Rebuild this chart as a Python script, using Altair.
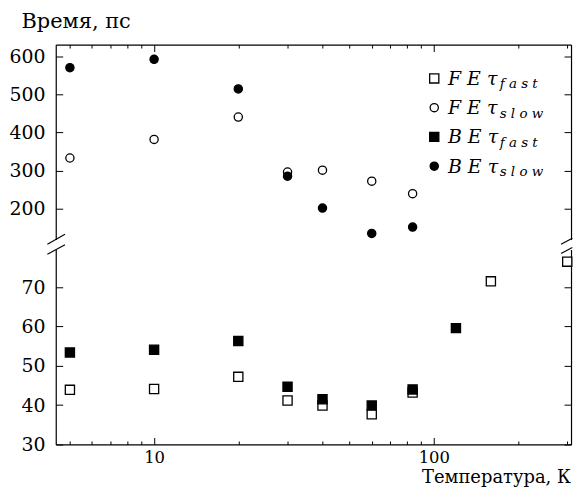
import altair as alt
import pandas as pd

# ---- data ----
T_fe_fast = [5, 10, 20, 30, 40, 60, 84, 160, 300]
fe_fast = [43.9, 44.1, 47.2, 41.2, 39.9, 37.7, 43.2, 71.5, 76.5]
T_be_fast = [5, 10, 20, 30, 40, 60, 84, 120]
be_fast = [53.4, 54.1, 56.3, 44.7, 41.5, 39.9, 44.0, 59.6]
T_slow = [5, 10, 20, 30, 40, 60, 84]
fe_slow = [333, 382, 441, 296, 301, 272, 239]
be_slow = [571, 593, 515, 285, 201, 134, 151]

x_major = [10, 100]
x_minor = [5, 6, 7, 8, 9, 20, 30, 40, 50, 60, 70, 80, 90, 200, 300]
upper_ticks = [200, 300, 400, 500, 600]
lower_ticks = [30, 40, 50, 60, 70]
legend_names = ["F E τ", "F E τ", "B E τ", "B E τ"]
legend_subs = ["f a s t", "s l o w", "f a s t", "s l o w"]
legend_shapes = ["square", "circle", "square", "circle"]
legend_fills = ["white", "white", "black", "black"]

FONT = "DejaVu Serif"
W = 518
H_UP = 196
H_LO = 196
MAJ = 7
MIN = 3.5

xscale = alt.Scale(type="log", domain=[4.45, 309.5], nice=False)
yscale_up = alt.Scale(domain=[118, 632], nice=False, zero=False)
yscale_lo = alt.Scale(domain=[30, 79.6], nice=False, zero=False)

SQ = 85
CI = 68


def tick_axis(orient, values, size, labels=False, **kw):
    return alt.Axis(orient=orient, values=values, tickSize=size, offset=-size,
                    domain=False, labels=labels, grid=False, title=None, **kw)


def dom_axis(orient, **kw):
    d = dict(orient=orient, domain=True, ticks=False, labels=False, grid=False)
    if "title" not in kw:
        d["title"] = None
    d.update(kw)
    return alt.Axis(**d)


def pts(T, v, shape, fill, size, yscale, xaxis=None, yaxis=None, opacity=1.0):
    df = pd.DataFrame({"T": T, "v": v})
    return alt.Chart(df).mark_point(
        filled=True, shape=shape, size=size, fill=fill, stroke="black",
        strokeWidth=1.3, opacity=opacity, fillOpacity=opacity, strokeOpacity=opacity,
    ).encode(
        x=alt.X("T:Q", scale=xscale, axis=xaxis),
        y=alt.Y("v:Q", scale=yscale, axis=yaxis),
    )


def slash(x1, y1, x2, y2):
    return alt.Chart(pd.DataFrame({"k": [0]})).mark_rule(
        color="black", strokeWidth=1.1
    ).encode(x=alt.value(x1), x2=alt.value(x2), y=alt.value(y1), y2=alt.value(y2))


# ---------- upper panel ----------
up_layers = [
    pts(T_slow, fe_slow, "circle", "white", CI, yscale_up,
        xaxis=tick_axis("top", x_major, MAJ),
        yaxis=tick_axis("left", upper_ticks, MAJ, labels=True, labelPadding=10.8, labelFontSize=19)),
    pts(T_slow, be_slow, "circle", "black", CI, yscale_up,
        xaxis=tick_axis("top", x_minor, MIN),
        yaxis=dom_axis("left", title="Время, пс", titleAngle=0, titleX=-35, titleY=-17.5,
                       titleAlign="left", titleBaseline="alphabetic", titleFontSize=21)),
    pts(T_slow, be_slow, "circle", "black", CI, yscale_up, opacity=0,
        xaxis=dom_axis("top"),
        yaxis=tick_axis("right", upper_ticks, MAJ)),
    pts(T_slow, be_slow, "circle", "black", CI, yscale_up, opacity=0,
        yaxis=dom_axis("right")),
]

# manual legend
for i in range(4):
    yy = 34 + 29.4 * i
    ld = pd.DataFrame({"name": [legend_names[i]], "sub": [legend_subs[i]]})
    up_layers.append(alt.Chart(ld).mark_point(
        filled=True, shape=legend_shapes[i], size=SQ if legend_shapes[i] == "square" else CI,
        fill=legend_fills[i], stroke="black", strokeWidth=1.3, opacity=1,
    ).encode(x=alt.value(380.5), y=alt.value(yy)))
    up_layers.append(alt.Chart(ld).mark_text(
        align="left", baseline="alphabetic", font=FONT, fontStyle="italic", fontSize=19, color="black"
    ).encode(x=alt.value(394.3), y=alt.value(yy + 6.5), text="name:N"))
    up_layers.append(alt.Chart(ld).mark_text(
        align="left", baseline="alphabetic", font=FONT, fontStyle="italic", fontSize=13.5, color="black"
    ).encode(x=alt.value(446.3), y=alt.value(yy + 10), text="sub:N"))

# axis break marks
up_layers += [
    slash(-8.4, 200.7, 9.3, 190.7),
    slash(-8.4, 210.7, 9.3, 201.3),
    slash(508, 200.7, 519.3, 194.6),
    slash(508, 210.0, 519.3, 203.9),
]

upper = alt.layer(*up_layers).resolve_axis(x="independent", y="independent").properties(
    width=W, height=H_UP)

# ---------- lower panel ----------
lower = alt.layer(
    pts(T_fe_fast, fe_fast, "square", "white", SQ, yscale_lo,
        xaxis=tick_axis("bottom", x_major, MAJ, labels=True, labelPadding=4.8, labelFontSize=16.5),
        yaxis=tick_axis("left", lower_ticks, MAJ, labels=True, labelPadding=10.8, labelFontSize=19)),
    pts(T_be_fast, be_fast, "square", "black", SQ, yscale_lo,
        xaxis=tick_axis("bottom", x_minor, MIN),
        yaxis=dom_axis("left")),
    pts(T_be_fast, be_fast, "square", "black", SQ, yscale_lo, opacity=0,
        xaxis=dom_axis("bottom", title="Температура, К", titleX=517.3, titleY=38.5,
                       titleAlign="right", titleBaseline="alphabetic", titleFontSize=18),
        yaxis=tick_axis("right", lower_ticks, MAJ)),
    pts(T_be_fast, be_fast, "square", "black", SQ, yscale_lo, opacity=0,
        yaxis=dom_axis("right")),
).resolve_axis(x="independent", y="independent").properties(width=W, height=H_LO)

chart = alt.vconcat(upper, lower, spacing=10, bounds="flush").properties(
    padding={"left": 0, "top": 0.5, "right": 0, "bottom": 0}
).configure_view(stroke=None).configure_axis(
    domainColor="black", domainWidth=1.2, tickColor="black", tickWidth=1,
    labelColor="black", labelFont=FONT, titleFont=FONT, titleColor="black",
    titleFontWeight="normal",
)

chart.save("out.html", embed_options={"renderer": "svg", "actions": False})
